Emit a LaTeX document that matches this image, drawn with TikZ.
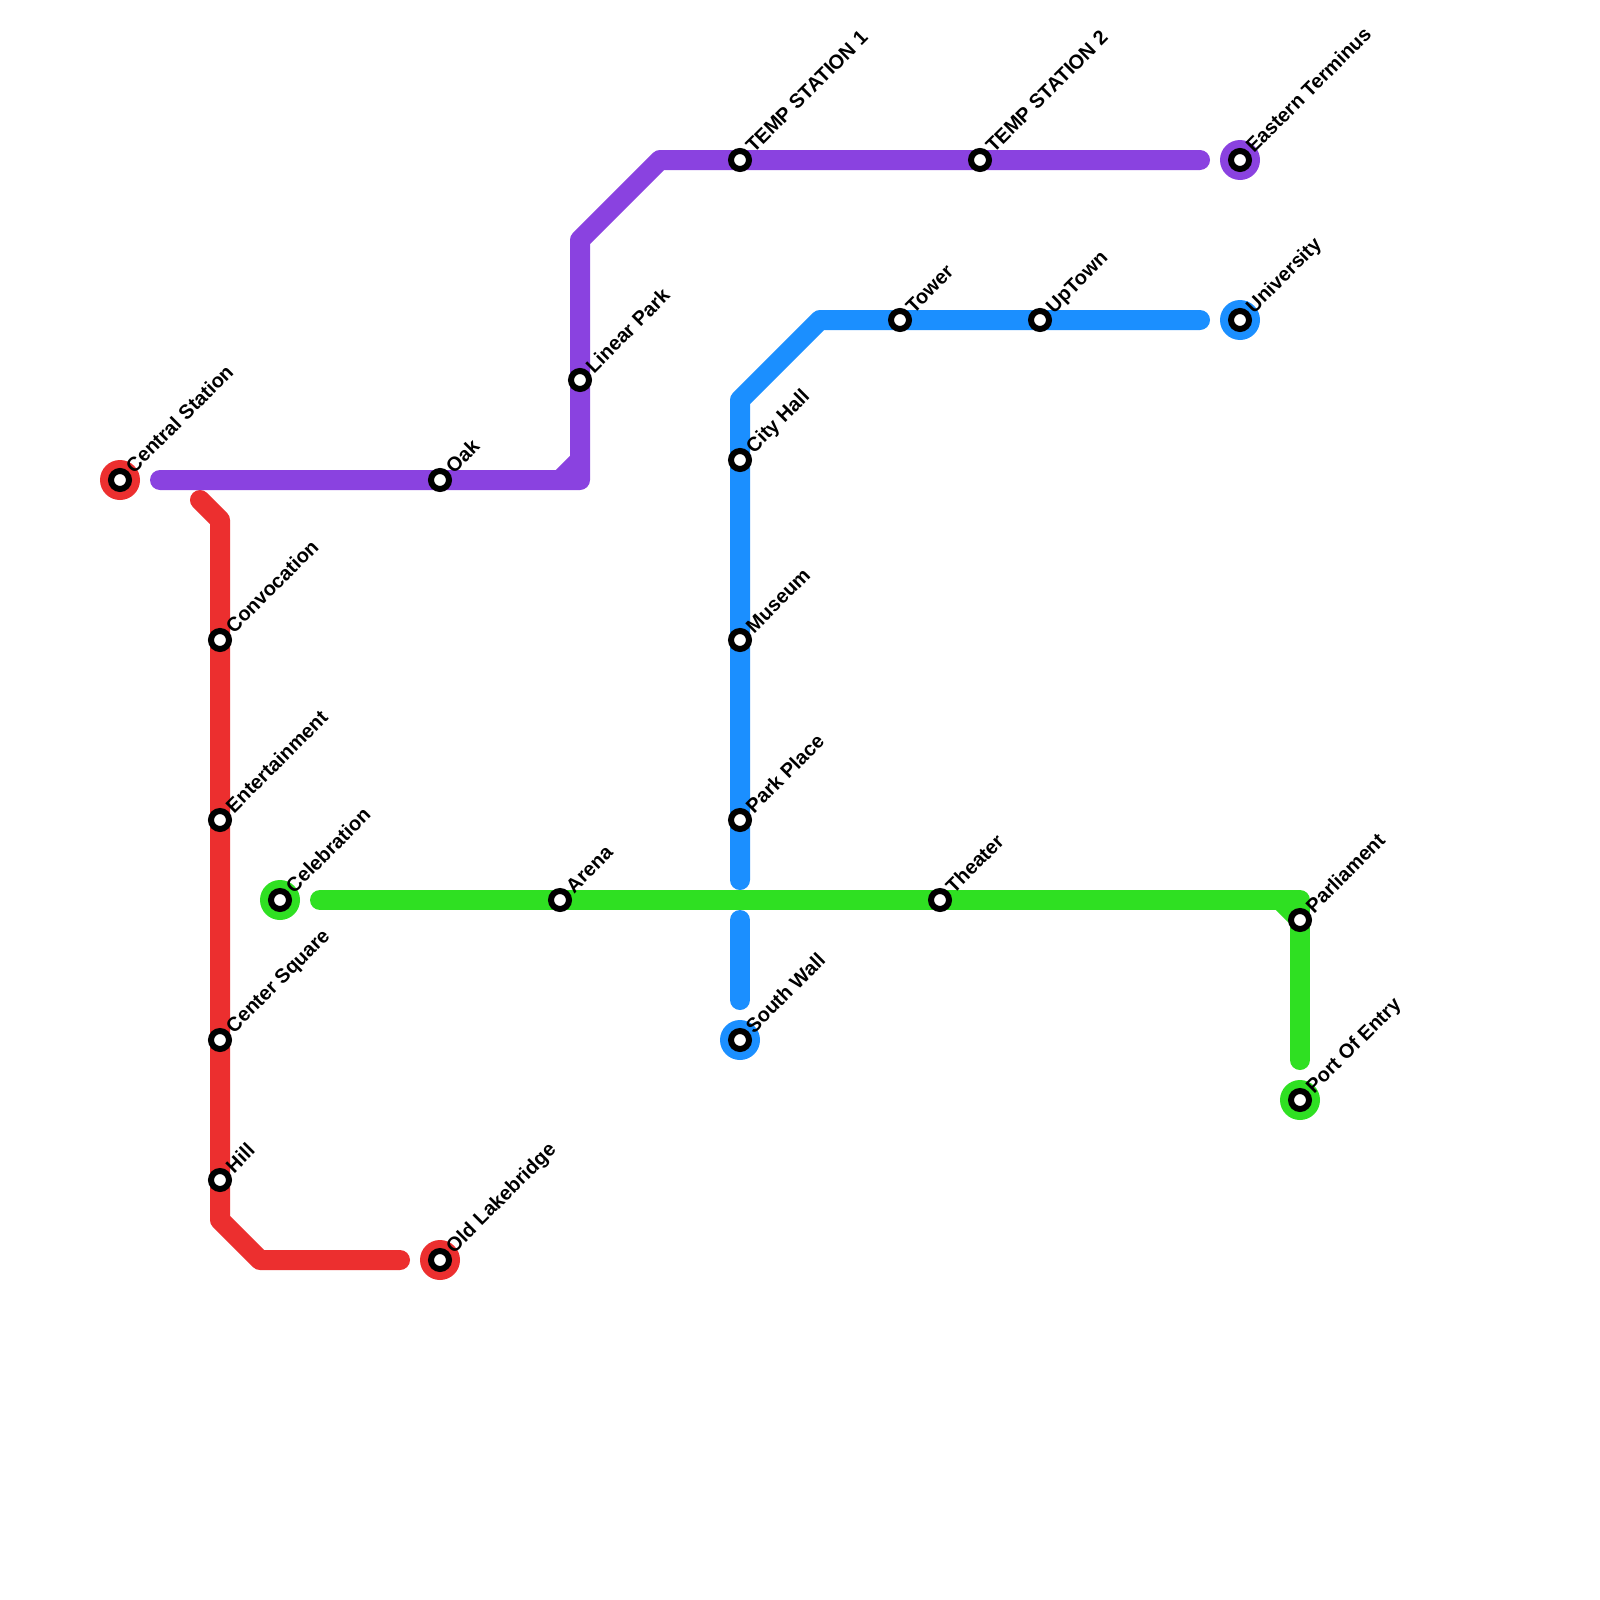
\documentclass[tikz,border=0pt]{standalone}
\usepackage{fontspec}
\newfontfamily\labfont{Liberation Sans Bold}
\definecolor{lred}{HTML}{EC2F2F}
\definecolor{lpurple}{HTML}{8A42E0}
\definecolor{lblue}{HTML}{1B8FFF}
\definecolor{lgreen}{HTML}{2FE022}
\tikzset{
  metro/.style={line width=10pt,line cap=round,line join=round},
  stationdot/.style={circle,draw=black,fill=white,line width=3pt,minimum size=9pt,inner sep=0pt,outer sep=0pt},
  terminal/.style={circle,fill=#1,minimum size=20pt,inner sep=0pt,outer sep=0pt},
  stationlabel/.style={anchor=base west,rotate=45,inner sep=0pt,outer sep=0pt,font=\labfont\fontsize{10pt}{13pt}\selectfont,text=black}
}
\newcommand{\stn}[4]{%
  \node[stationdot] (#1) at (#2,#3) {};
  \node[stationlabel] (#1-lab) at (#2+14,#3-6) {#4};}
\begin{document}
\begin{tikzpicture}[x=0.5pt,y=-0.5pt]
\useasboundingbox (0,0) rectangle (1600,1600);
\fill[white] (0,0) rectangle (1600,1600);
% terminals
\node[terminal=lred] (tcentral) at (120,480) {};
\node[terminal=lred] (told) at (440,1260) {};
\node[terminal=lpurple] (teast) at (1240,160) {};
\node[terminal=lblue] (tuni) at (1240,320) {};
\node[terminal=lblue] (tsouth) at (740,1040) {};
\node[terminal=lgreen] (tcele) at (280,900) {};
\node[terminal=lgreen] (tport) at (1300,1100) {};
% line corners
\coordinate (p0) at (160,480); \coordinate (p1) at (580,480); \coordinate (p2) at (580,240);
\coordinate (p3) at (660,160); \coordinate (p4) at (1200,160);
\coordinate (p5) at (560,480); \coordinate (p6) at (580,460);
\coordinate (r0) at (200,500); \coordinate (r1) at (220,520); \coordinate (r2) at (220,1220);
\coordinate (r3) at (260,1260); \coordinate (r4) at (400,1260);
\coordinate (b0) at (1200,320); \coordinate (b1) at (820,320); \coordinate (b2) at (740,400);
\coordinate (b3) at (740,880); \coordinate (b4) at (740,920); \coordinate (b5) at (740,1000);
\coordinate (g0) at (320,900); \coordinate (g1) at (1300,900); \coordinate (g2) at (1300,1060);
\coordinate (g3) at (1280,900); \coordinate (g4) at (1300,920);
% lines
\draw[metro,lblue] (b0) -- (b1) -- (b2) -- (b3);
\draw[metro,lblue] (b4) -- (b5);
\draw[metro,lgreen] (g0) -- (g1) -- (g2);
\draw[metro,lgreen,line cap=butt] (g3) -- (g4);
\draw[metro,lred] (r0) -- (r1) -- (r2) -- (r3) -- (r4);
\draw[metro,lpurple] (p0) -- (p1) -- (p2) -- (p3) -- (p4);
\draw[metro,lpurple,line cap=butt] (p5) -- (p6);
% stations
\stn{central}{120}{480}{Central Station}
\stn{oak}{440}{480}{Oak}
\stn{linear}{580}{380}{Linear Park}
\stn{tempa}{740}{160}{TEMP STATION 1}
\stn{tempb}{980}{160}{TEMP STATION 2}
\stn{eastern}{1240}{160}{Eastern Terminus}
\stn{university}{1240}{320}{University}
\stn{tower}{900}{320}{Tower}
\stn{uptown}{1040}{320}{UpTown}
\stn{cityhall}{740}{460}{City Hall}
\stn{museum}{740}{640}{Museum}
\stn{parkplace}{740}{820}{Park Place}
\stn{southwall}{740}{1040}{South Wall}
\stn{celebration}{280}{900}{Celebration}
\stn{arena}{560}{900}{Arena}
\stn{theater}{940}{900}{Theater}
\stn{parliament}{1300}{920}{Parliament}
\stn{portentry}{1300}{1100}{Port Of Entry}
\stn{convocation}{220}{640}{Convocation}
\stn{entertainment}{220}{820}{Entertainment}
\stn{centersq}{220}{1040}{Center Square}
\stn{hill}{220}{1180}{Hill}
\stn{oldlake}{440}{1260}{Old Lakebridge}
\end{tikzpicture}
\end{document}
